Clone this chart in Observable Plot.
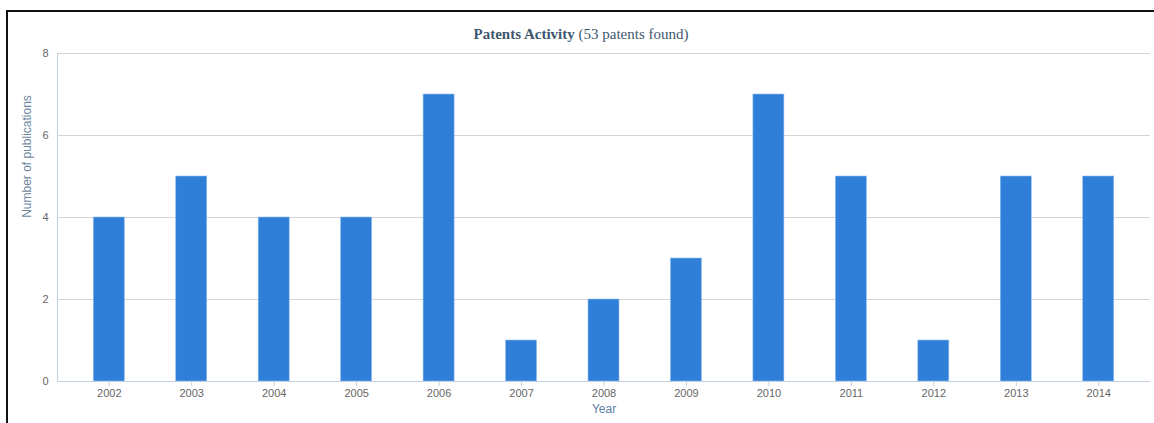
<!DOCTYPE html>
<html>
<head>
<meta charset="utf-8">
<script src="https://cdn.jsdelivr.net/npm/d3@7"></script>
<script src="https://cdn.jsdelivr.net/npm/@observablehq/plot@0.6"></script>
<style>
  html, body { margin: 0; padding: 0; background: #fff; }
  #frame {
    position: absolute; left: 6px; top: 10px; width: 1148px; height: 413px;
    border-top: 2px solid #111; border-left: 2px solid #111; box-sizing: border-box;
  }
  #title {
    height: 36px; box-sizing: border-box; padding-top: 13px;
    text-align: center; font-family: "Liberation Serif", "DejaVu Serif", serif;
    font-size: 15px; line-height: 18px; color: #3e576f;
  }
  #title b { font-weight: bold; }
  #chart svg { display: block; }
</style>
</head>
<body>
<div id="frame">
  <div id="title"><b>Patents Activity</b> (53 patents found)</div>
  <div id="chart"></div>
</div>
<script>
const years = ["2002","2003","2004","2005","2006","2007","2008","2009","2010","2011","2012","2013","2014"];
const publications = [4, 5, 4, 4, 7, 1, 2, 3, 7, 5, 1, 5, 5];
const yTicks = [0, 2, 4, 6, 8];
const yTitle = "Number of publications";
const xTitle = "Year";

const data = years.map((y, i) => ({year: y, count: publications[i]}));
const font = "'Liberation Sans', Arial, sans-serif";

const chart = Plot.plot({
  width: 1146,
  height: 375,
  marginLeft: 49,
  marginRight: 4,
  marginTop: 5,
  marginBottom: 42,
  style: {fontFamily: font, background: "#fff"},
  x: {domain: years, paddingInner: 0.624, paddingOuter: 0.44, round: false, label: null},
  y: {domain: [0, 8], label: null},
  marks: [
    Plot.gridY(yTicks.filter(d => d > 0), {stroke: "#d4d4d4", strokeOpacity: 1, strokeWidth: 1}),
    Plot.barY(data, {x: "year", y: "count", fill: "#2f7ed8", stroke: "#8fbcf0", strokeWidth: 0.6}),
    Plot.ruleY([0], {stroke: "#c0d0e0", strokeWidth: 1}),
    Plot.frame({anchor: "left", stroke: "#c0d0e0", strokeWidth: 1}),
    Plot.axisY({ticks: yTicks, tickSize: 0, tickPadding: 9, fontSize: 11, color: "#666", label: null}),
    Plot.axisX({tickSize: 5, tickPadding: 3, fontSize: 11, color: "#666", stroke: "#c0d0e0", label: null}),
    Plot.text([yTitle], {frameAnchor: "left", textAnchor: "middle", dx: -30, dy: -61, rotate: -90, fontSize: 12, fill: "#6d869f", fontFamily: font}),
    Plot.text([xTitle], {frameAnchor: "bottom", dy: 31, fontSize: 12, fill: "#5b7fa6", fontFamily: font})
  ]
});
document.getElementById("chart").appendChild(chart);
</script>
</body>
</html>
